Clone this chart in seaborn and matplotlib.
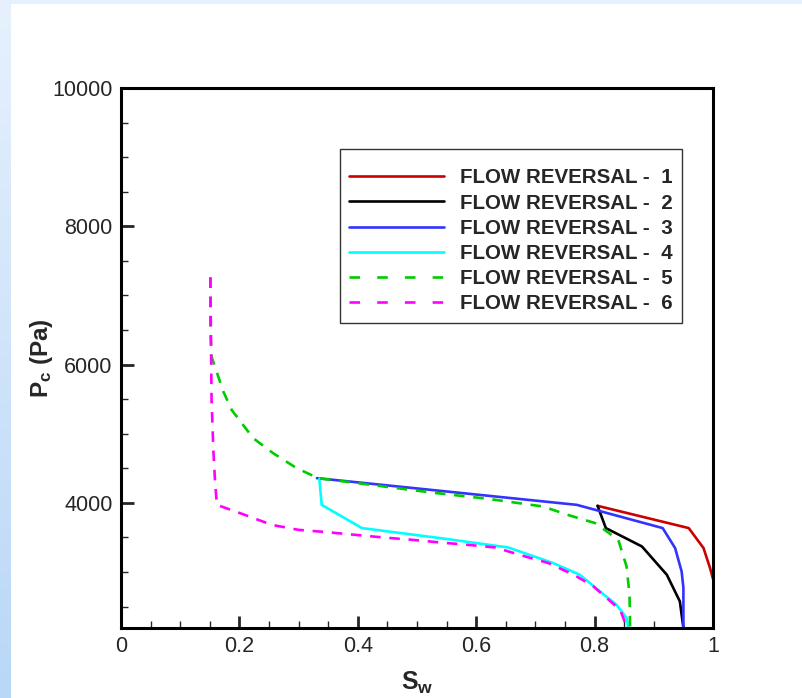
import numpy as np
import pandas as pd
import seaborn as sns
import matplotlib.pyplot as plt
from matplotlib.ticker import MultipleLocator

# capillary pressure curves (Sw, Pc in Pa)
sw_1 = [0.805, 0.959, 0.984, 0.995, 1.0]
pc_1 = [3957, 3635, 3346, 3057, 2900]

sw_2 = [0.805, 0.819, 0.880, 0.922, 0.944, 0.950]
pc_2 = [3957, 3635, 3369, 2960, 2575, 2190]

sw_3 = [0.331, 0.770, 0.915, 0.936, 0.947, 0.950, 0.950]
pc_3 = [4357, 3971, 3635, 3346, 3008, 2773, 2190]

sw_4 = [0.335, 0.339, 0.407, 0.539, 0.654, 0.730, 0.775, 0.809, 0.837, 0.854, 0.857]
pc_4 = [4350, 3971, 3635, 3490, 3355, 3129, 2960, 2719, 2527, 2335, 2190]

sw_5 = [0.151, 0.151, 0.153, 0.173, 0.187, 0.2235, 0.257, 0.297, 0.333, 0.432,
        0.525, 0.620, 0.713, 0.758, 0.801, 0.840, 0.854, 0.859, 0.860]
pc_5 = [7260, 6500, 6113, 5607, 5343, 4934, 4718, 4501, 4357, 4250,
        4149, 4058, 3947, 3817, 3707, 3466, 3080, 2672, 2190]

sw_6 = [0.151, 0.153, 0.156, 0.159, 0.162, 0.209, 0.2545, 0.2995, 0.347, 0.395,
        0.443, 0.491, 0.539, 0.584, 0.632, 0.677, 0.722, 0.767, 0.798, 0.843, 0.855]
pc_6 = [7263, 5487, 4765, 4284, 3971, 3827, 3682, 3610, 3577, 3538,
        3499, 3466, 3427, 3394, 3355, 3239, 3129, 2950, 2791, 2455, 2190]

labels = ['FLOW REVERSAL -  %d' % i for i in range(1, 7)]
colors = ['#cc0000', '#000000', '#3333ff', '#00ffff', '#00cc00', '#ff00ff']
styles = ['-', '-', '-', '-', '--', '--']

sns.set_style('ticks')
plt.rcParams['font.family'] = ['Liberation Sans', 'DejaVu Sans']
plt.rcParams['mathtext.fontset'] = 'custom'
plt.rcParams['mathtext.rm'] = 'Liberation Sans'
plt.rcParams['mathtext.bf'] = 'Liberation Sans:bold'

fig = plt.figure(figsize=(8.02, 6.98), dpi=100)
fig.patch.set_facecolor('white')

# light blue frame strips of the original slide
grad = fig.add_axes([0, 0, 11 / 802, 1])
grad.imshow(np.linspace(0, 1, 256).reshape(-1, 1), aspect='auto',
            cmap=plt.matplotlib.colors.LinearSegmentedColormap.from_list('bg', ['#e6f1fd', '#b9d7f7']),
            extent=[0, 1, 0, 1], origin='upper')
grad.axis('off')
top = fig.add_axes([11 / 802, 1 - 4 / 698, 1, 4 / 698])
top.set_facecolor('#e4f0fd')
top.set_xticks([]); top.set_yticks([])
for s in top.spines.values():
    s.set_visible(False)

ax = fig.add_axes([121 / 802, 1 - 628 / 698, 592 / 802, 540 / 698])

series = [(sw_1, pc_1), (sw_2, pc_2), (sw_3, pc_3), (sw_4, pc_4), (sw_5, pc_5), (sw_6, pc_6)]
for (sw, pc), lab, col, ls in zip(series, labels, colors, styles):
    df = pd.DataFrame({'Sw': sw, 'Pc': pc})
    sns.lineplot(data=df, x='Sw', y='Pc', sort=False, estimator=None, ax=ax,
                 color=col, linestyle=ls, linewidth=1.9, label=lab)

for line in ax.get_lines():
    if line.get_linestyle() == '--':
        line.set_dashes((4, 3.3))

ax.set_xlim(0, 1)
ax.set_ylim(2190, 10000)
ax.xaxis.set_minor_locator(MultipleLocator(0.05))
ax.yaxis.set_minor_locator(MultipleLocator(500))
ax.set_xticks([0, 0.2, 0.4, 0.6, 0.8, 1.0])
ax.set_xticklabels(['0', '0.2', '0.4', '0.6', '0.8', '1'])
ax.set_yticks([4000, 6000, 8000, 10000])
ax.tick_params(which='major', direction='in', length=9, width=2, labelsize=15.5, pad=6)
ax.tick_params(which='minor', direction='in', length=5, width=1)
for s in ax.spines.values():
    s.set_linewidth(2.2)
    s.set_color('black')

ax.set_xlabel(r'$\mathbf{S_w}$', fontsize=18, labelpad=9)
ax.set_ylabel(r'$\mathbf{P_c}$ (Pa)', fontsize=17.5, fontweight='bold', labelpad=-2)

# a tiny blank title pushes the rows down like in the original legend box
leg = ax.legend(loc='upper right', bbox_to_anchor=(0.948, 0.887), frameon=True,
                fancybox=False, edgecolor='black', fontsize=14.8, handlelength=4.6,
                handletextpad=0.8, labelspacing=0.3, borderpad=0.45, borderaxespad=0,
                title=' ', title_fontsize=2)
leg.get_frame().set_linewidth(1.0)
for t in leg.get_texts():
    t.set_fontweight('bold')
for h in leg.get_lines():
    if h.get_linestyle() == '--':
        h.set_dashes((4, 6.5))

fig.savefig('out.png', dpi=100)
